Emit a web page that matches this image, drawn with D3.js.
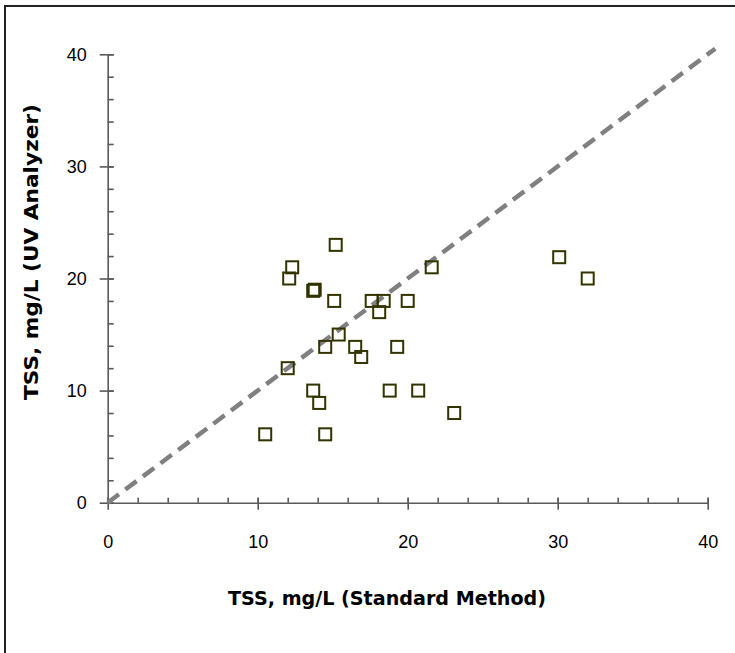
<!DOCTYPE html>
<html>
<head>
<meta charset="utf-8">
<script src="https://cdn.jsdelivr.net/npm/d3@7"></script>
<style>
  html, body { margin: 0; padding: 0; background: #fff; }
  svg { display: block; }
</style>
</head>
<body>
<svg id="chart" width="735" height="653"></svg>
<script>
// TSS by standard method (x) vs. UV analyzer (y), mg/L
const standardMethod = [10.5, 12.0, 12.1, 12.3, 13.7, 13.8, 13.7, 14.1, 14.5, 14.5, 15.1, 15.2, 15.4, 16.5, 16.9, 17.6, 18.1, 18.4, 18.8, 19.3, 20.0, 20.7, 21.6, 23.1, 30.1, 32.0];
const uvAnalyzer     = [6.1, 12.0, 20.0, 21.0, 18.9, 19.0, 10.0, 8.9, 13.9, 6.1, 18.0, 23.0, 15.0, 13.9, 13.0, 18.0, 17.0, 18.0, 10.0, 13.9, 18.0, 10.0, 21.0, 8.0, 21.9, 20.0];

// 1:1 reference line
const oneToOne = [0, 40.5];

const majorTicks = [0, 10, 20, 30, 40];
const minorTicks = d3.range(0, 41, 2);

const xTitle = "TSS, mg/L (Standard Method)";
const yTitle = "TSS, mg/L (UV Analyzer)";

const svg = d3.select("#chart");

// outer frame
svg.append("rect")
  .attr("x", 5).attr("y", 6)
  .attr("width", 740).attr("height", 660)
  .attr("fill", "none")
  .attr("stroke", "#222")
  .attr("stroke-width", 2);

const x = d3.scaleLinear().domain([0, 40]).range([107.7, 707.7]);
const y = d3.scaleLinear().domain([0, 40]).range([502.7, 54.3]);

const axisColor = "#5a5a5a";
const g = svg.append("g");

// minor ticks (inward only)
const xMinor = g.append("g").attr("transform", `translate(0,${y(0)})`)
  .call(d3.axisBottom(x).tickValues(minorTicks).tickSize(-5).tickFormat(""));
const yMinor = g.append("g").attr("transform", `translate(${x(0)},0)`)
  .call(d3.axisLeft(y).tickValues(minorTicks).tickSize(-6).tickFormat(""));

// major ticks (crossing the axis line)
const xMajor = g.append("g").attr("transform", `translate(0,${y(0)})`)
  .call(d3.axisBottom(x).tickValues(majorTicks).tickSize(7).tickSizeOuter(0).tickPadding(26).tickFormat(d3.format("d")));
const yMajor = g.append("g").attr("transform", `translate(${x(0)},0)`)
  .call(d3.axisLeft(y).tickValues(majorTicks).tickSize(8).tickSizeOuter(0).tickPadding(13).tickFormat(d3.format("d")));

[xMinor, yMinor, xMajor, yMajor].forEach(a => {
  a.select(".domain").attr("stroke", axisColor).attr("stroke-width", 1.6);
  a.selectAll(".tick line").attr("stroke", axisColor).attr("stroke-width", 1.6);
});
xMinor.selectAll(".domain").remove();
yMinor.selectAll(".domain").remove();

// inward stubs of the major ticks
xMajor.selectAll(".tick").append("line")
  .attr("y1", 0).attr("y2", -5).attr("stroke", axisColor).attr("stroke-width", 1.6);
yMajor.selectAll(".tick").append("line")
  .attr("x1", 0).attr("x2", 6).attr("stroke", axisColor).attr("stroke-width", 1.6);

[xMajor, yMajor].forEach(a => a.selectAll(".tick text")
  .attr("font-family", "'Liberation Sans', Arial, sans-serif")
  .attr("font-size", 18)
  .attr("fill", "#000"));

// 1:1 dashed line
svg.append("line")
  .attr("x1", x(oneToOne[0])).attr("y1", y(oneToOne[0]))
  .attr("x2", x(oneToOne[1])).attr("y2", y(oneToOne[1]))
  .attr("stroke", "#808080")
  .attr("stroke-width", 4.5)
  .attr("stroke-dasharray", "14,8");

// observations
const pts = standardMethod.map((v, i) => ({ sx: v, uv: uvAnalyzer[i] }));
const side = 12;
svg.append("g").selectAll("rect")
  .data(pts)
  .join("rect")
  .attr("x", d => x(d.sx) - side / 2)
  .attr("y", d => y(d.uv) - side / 2)
  .attr("width", side).attr("height", side)
  .attr("fill", "none")
  .attr("stroke", "#333300")
  .attr("stroke-width", 2);

// axis titles
const titleFont = "'DejaVu Sans', Verdana, sans-serif";
svg.append("text")
  .attr("x", 387).attr("y", 605)
  .attr("text-anchor", "middle")
  .attr("font-family", titleFont)
  .attr("font-weight", "bold")
  .attr("font-size", 19)
  .attr("textLength", 318)
  .attr("lengthAdjust", "spacingAndGlyphs")
  .text(xTitle);

svg.append("text")
  .attr("transform", "translate(38,252) rotate(-90)")
  .attr("text-anchor", "middle")
  .attr("font-family", titleFont)
  .attr("font-weight", "bold")
  .attr("font-size", 19)
  .attr("textLength", 296)
  .attr("lengthAdjust", "spacingAndGlyphs")
  .text(yTitle);
</script>
</body>
</html>
